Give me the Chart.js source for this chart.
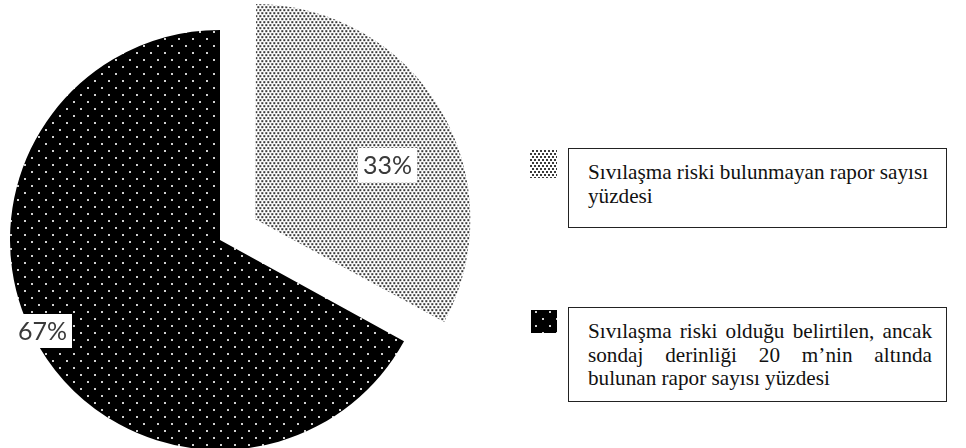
<!DOCTYPE html>
<html><head><meta charset="utf-8">
<script src="https://cdn.jsdelivr.net/npm/chart.js@4.4.0/dist/chart.umd.min.js"></script>
<style>
html,body{margin:0;padding:0;background:#fff;width:966px;height:448px;overflow:hidden}
#wrap{position:relative;width:966px;height:448px}
#c{position:absolute;left:0;top:0}
.box{position:absolute;border:1px solid #222;background:#fff;box-sizing:border-box;
 font-family:'Liberation Serif','Times New Roman',serif;font-size:21.2px;color:#111;line-height:23.5px;padding-left:19px;padding-top:12px}
.ln{width:344px;white-space:nowrap}
.j{text-align:justify;text-align-last:justify;white-space:normal}
</style></head>
<body><div id="wrap"><canvas id="c" width="966" height="448"></canvas></div>
<script>
// ---- data ----
const categoryLines = [
  ['Sıvılaşma riski bulunmayan rapor sayısı', 'yüzdesi'],
  ['Sıvılaşma riski olduğu belirtilen, ancak', 'sondaj derinliği 20 m’nin altında', 'bulunan rapor sayısı yüzdesi']
];
const categories = categoryLines.map(l => l.join(' '));
const values = [33, 67];
const justifiedLines = [[false, false], [true, true, false]];

// ---- patterns ----
function makePattern(w, h, bg, dots, dotColor, ds) {
  const t = document.createElement('canvas');
  t.width = w; t.height = h;
  const x = t.getContext('2d');
  x.fillStyle = bg; x.fillRect(0, 0, w, h);
  x.fillStyle = dotColor;
  dots.forEach(d => x.fillRect(d[0], d[1], ds, ds));
  return document.getElementById('c').getContext('2d').createPattern(t, 'repeat');
}
const grayPat = makePattern(4, 6, '#ffffff', [[0,0],[2,3]], '#3a3a3a', 2);
const blackPat = makePattern(14, 14, '#000000', [[3,3],[10,10]], '#d0d0d0', 2);
const fills = [grayPat, blackPat];

// ---- labels plugin ----
const labelPlace = [{dAngle: 8.5, frac: 0.68}, {dAngle: 3.5, frac: 0.95}];
const pctLabels = {
  id: 'pctLabels',
  afterDatasetsDraw(chart) {
    const ctx = chart.ctx;
    const meta = chart.getDatasetMeta(0);
    const ds = chart.data.datasets[0];
    const total = ds.data.reduce((a, b) => a + b, 0);
    ctx.save();
    ctx.font = '25px Lato, "Open Sans", sans-serif';
    ctx.textAlign = 'center';
    ctx.textBaseline = 'middle';
    meta.data.forEach((el, i) => {
      const p = el.getProps(['x', 'y', 'startAngle', 'endAngle', 'outerRadius'], true);
      const mid = (p.startAngle + p.endAngle) / 2;
      const off = (ds.offset[i] || 0) / 4;
      const cx = p.x + Math.cos(mid) * off, cy = p.y + Math.sin(mid) * off;
      const a = mid + labelPlace[i].dAngle * Math.PI / 180;
      const r = p.outerRadius * labelPlace[i].frac;
      const lx = cx + Math.cos(a) * r, ly = cy + Math.sin(a) * r;
      const txt = Math.round(ds.data[i] / total * 100) + '%';
      const w = ctx.measureText(txt).width + 10, h = 34;
      ctx.fillStyle = '#ffffff';
      ctx.fillRect(Math.round(lx - w / 2), Math.round(ly - h / 2), Math.round(w), h);
      ctx.fillStyle = '#3a3a3a';
      ctx.fillText(txt, lx, ly + 1);
    });
    // legend swatches
    const sw = [[530, 150, 27, 28], [531, 310, 26, 23]];
    sw.forEach((s, i) => {
      ctx.fillStyle = fills[i];
      ctx.fillRect(s[0], s[1], s[2], s[3]);
    });
    ctx.restore();
  }
};

new Chart(document.getElementById('c'), {
  type: 'pie',
  data: {
    labels: categories,
    datasets: [{
      data: values,
      backgroundColor: fills,
      borderWidth: 0,
      offset: [164, 0],
      radius: 210,
      clip: false
    }]
  },
  options: {
    responsive: false,
    animation: false,
    events: [],
    layout: {padding: {left: 0, right: 526, top: 32, bottom: 0}},
    plugins: {legend: {display: false}, tooltip: {enabled: false}}
  },
  plugins: [pctLabels]
});

// ---- legend boxes (HTML text) ----
const boxes = [{left: 568, top: 148, w: 379, h: 80}, {left: 568, top: 307, w: 379, h: 95}];
const wrap = document.getElementById('wrap');
categoryLines.forEach((lines, i) => {
  const b = document.createElement('div');
  b.className = 'box';
  const bx = boxes[i];
  b.style.left = bx.left + 'px'; b.style.top = bx.top + 'px';
  b.style.width = bx.w + 'px'; b.style.height = bx.h + 'px';
  lines.forEach((t, k) => {
    const d = document.createElement('div');
    d.className = 'ln' + (justifiedLines[i][k] ? ' j' : '');
    d.textContent = t;
    b.appendChild(d);
  });
  wrap.appendChild(b);
});
</script></body></html>
